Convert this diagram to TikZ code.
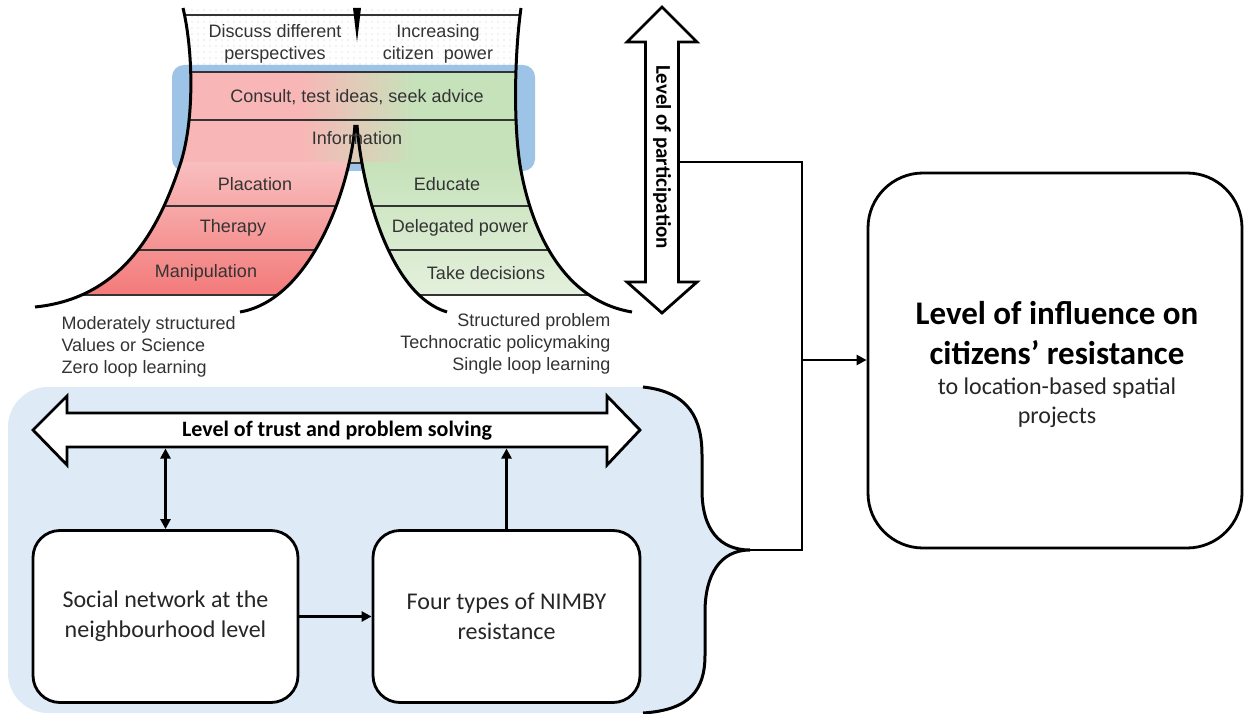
\documentclass[tikz,border=0pt]{standalone}
\usepackage{fontspec}
\setmainfont{Liberation Sans}
\newfontfamily\calib{Carlito}
\usetikzlibrary{arrows.meta}
\definecolor{txt}{RGB}{51,51,51}
\definecolor{pinkA}{RGB}{249,190,190}
\definecolor{pinkB}{RGB}{243,122,122}
\definecolor{pinkM}{RGB}{249,182,182}
\definecolor{greenA}{RGB}{198,226,186}
\definecolor{greenB}{RGB}{228,240,220}
\definecolor{hlblue}{RGB}{157,195,230}
\definecolor{bgblue}{RGB}{222,235,247}
\definecolor{dotgray}{RGB}{205,205,205}
\definecolor{boxtxt}{RGB}{38,38,38}
\tikzset{
  curve/.style={line width=3pt, black},
  rowline/.style={line width=1.4pt, black!80},
  conn/.style={line width=2.8pt, black, line join=miter},
  arr/.style={conn, -{Triangle[length=10pt,width=10pt]}},
  darr/.style={conn, {Triangle[length=10pt,width=10pt]}-{Triangle[length=10pt,width=10pt]}},
  box/.style={draw, line width=2.8pt, fill=white, rounded corners=27pt, align=center,
              text=boxtxt, font=\calib\fontsize{24}{30}\selectfont},
  fatarrow/.style={draw, line width=2.8pt, fill=white, line join=miter},
  lad/.style={text=txt, font=\fontsize{18}{22}\selectfont, align=center},
  note/.style={text=txt, font=\fontsize{18}{22}\selectfont},
}
\begin{document}
\begin{tikzpicture}[x=1pt,y=-1pt]
\useasboundingbox (0,0) rectangle (1244,714);
\fill[white] (0,0) rectangle (1244,714);

% ---------- bottom blue region with brace ----------
\fill[bgblue] (643,387) .. controls (690,392) and (702,420) .. (702,455) -- (702,490)
  .. controls (702,530) and (720,550) .. (750,550)
  .. controls (720,550) and (705,575) .. (705,612) -- (705,655)
  .. controls (705,690) and (690,710) .. (643,713) -- (48,713)
  .. controls (26,713) and (8,695) .. (8,673) -- (8,427)
  .. controls (8,405) and (26,387) .. (48,387) -- cycle;
\coordinate (braceTip) at (750,550);
\draw[curve] (643,387) .. controls (690,392) and (702,420) .. (702,455) -- (702,490)
  .. controls (702,530) and (720,550) .. (braceTip)
  .. controls (720,550) and (705,575) .. (705,612) -- (705,655)
  .. controls (705,690) and (690,710) .. (643,713);

% ---------- ladder ----------
% dots
\begin{scope}
  \clip (183,8) .. controls (193,50) and (195,120) .. (180,165) .. controls (160,225) and (125,298) .. (35,307)
     -- (632,312) .. controls (560,300) and (530,225) .. (520,165) .. controls (513,120) and (515,50) .. (521,8) -- cycle;
  \foreach \yy in {10,16,...,70} {
    \foreach \xx in {180,186,...,530} {
      \fill[dotgray] (\xx,\yy) circle (0.7);
    }
  }
\end{scope}
% highlight
\fill[hlblue, rounded corners=12pt] (172,65) rectangle (535,171);
% middle rows
\begin{scope}
  \clip (183,8) .. controls (193,50) and (195,120) .. (180,165) .. controls (160,225) and (125,298) .. (35,307)
     -- (632,312) .. controls (560,300) and (530,225) .. (520,165) .. controls (513,120) and (515,50) .. (521,8) -- cycle;
  \fill[pinkM] (150,72) rectangle (300,163);
  \shade[left color=pinkM, right color=greenA] (300,72) rectangle (415,163);
  \fill[greenA] (415,72) rectangle (560,163);
  \draw[rowline] (150,15) -- (560,15);
  \draw[rowline] (150,72) -- (560,72);
  \draw[rowline] (150,120) -- (560,120);
  \draw[rowline] (150,163) -- (560,163);
\end{scope}
% left rows
\begin{scope}
  \clip (183,8) .. controls (193,50) and (195,120) .. (180,165) .. controls (160,225) and (125,298) .. (35,307)
     -- (240,312) .. controls (310,300) and (350,190) .. (355,125) -- (355,8) -- cycle;
  \shade[top color=pinkA, bottom color=pinkB] (0,163) rectangle (400,295);
  \draw[rowline] (0,206) -- (400,206);
  \draw[rowline] (0,250) -- (400,250);
  \draw[rowline] (0,295) -- (400,295);
\end{scope}
% right rows
\begin{scope}
  \clip (521,8) .. controls (515,50) and (513,120) .. (520,165) .. controls (530,225) and (560,300) .. (632,312)
     -- (447,312) .. controls (390,295) and (362,190) .. (357,125) -- (357,8) -- cycle;
  \shade[top color=greenA, bottom color=greenB] (340,163) rectangle (700,295);
  \draw[rowline] (340,206) -- (700,206);
  \draw[rowline] (340,250) -- (700,250);
  \draw[rowline] (340,295) -- (700,295);
\end{scope}
% curves
\draw[curve] (183,8) .. controls (193,50) and (195,120) .. (180,165) .. controls (160,225) and (125,298) .. (35,307);
\draw[curve] (521,8) .. controls (515,50) and (513,120) .. (520,165) .. controls (530,225) and (560,300) .. (632,312);
\draw[curve] (355,125) .. controls (350,190) and (310,300) .. (240,312);
\draw[curve] (357,125) .. controls (362,190) and (390,295) .. (447,312);
\fill[black] (353,8) -- (361,8) -- (357,42) -- cycle;

% ladder texts
\node[lad] (disc) at (275,44) {Discuss different\\perspectives};
\node[lad] (incr) at (438,44) {Increasing\\citizen\ \ power};
\node[lad] (consult) at (357,97) {Consult, test ideas, seek advice};
\node[lad] (inform) at (357,138) {Information};
\draw[curve] (355,125) -- (355.6,133);
\node[lad] (plac) at (255,184) {Placation};
\node[lad] (ther) at (233,228) {Therapy};
\node[lad] (mani) at (206,273) {Manipulation};
\node[lad] (educ) at (447,184) {Educate};
\node[lad] (dele) at (460,228) {Delegated power};
\node[lad] (take) at (486,273) {Take decisions};
\node[note, align=left, anchor=west] (leftnote) at (58,347) {Moderately structured\\Values or Science\\Zero loop learning};
\node[note, align=right, anchor=east] (rightnote) at (614,344) {Structured problem\\Technocratic policymaking\\Single loop learning};

% ---------- participation arrow ----------
\draw[fatarrow] (662,7) -- (697,42) -- (678.5,42) -- (678.5,282) -- (697,282) -- (662,313)
  -- (627,282) -- (645.5,282) -- (645.5,42) -- (627,42) -- cycle;
\node[rotate=-90, font=\calib\bfseries\fontsize{21}{25}\selectfont] (part) at (662,157) {Level of participation};
\coordinate (partR) at (678.5,162);
\coordinate (c1) at (802,162);
\coordinate (c2) at (802,550);
\coordinate (junc) at (802,360);
\draw[conn] (partR) -- (c1) -- (c2) -- (braceTip);

% ---------- trust arrow ----------
\draw[fatarrow] (33,430) -- (67,396) -- (67,413) -- (607,413) -- (607,396) -- (640,430)
  -- (607,465) -- (607,447) -- (67,447) -- (67,465) -- cycle;
\node[font=\calib\bfseries\fontsize{22}{26}\selectfont] (trust) at (337,431) {Level of trust and problem solving};
\coordinate (tb) at (337,448.5);

% ---------- boxes ----------
\node[box, minimum width=265pt, minimum height=172pt] (soc) at (165.5,616.5) {Social network at the\\neighbourhood level};
\node[box, minimum width=267pt, minimum height=172pt] (nimby) at (506.5,616.5) {Four types of NIMBY\\resistance};
\node[box, rounded corners=55pt, minimum width=374pt, minimum height=375pt] (infl) at (1055,360.5) {};
\node[font=\calib\bfseries\fontsize{33}{40}\selectfont, align=center] (infltitle) at (1057,333) {Level of influence on\\citizens’ resistance};
\node[font=\calib\fontsize{24}{29}\selectfont, align=center, text=boxtxt] (inflsub) at (1057,403) {to location-based spatial\\projects};

% ---------- connectors ----------
\draw[darr] (soc.north |- tb) -- (soc.north);
\draw[arr] (nimby.north) -- (nimby.north |- tb);
\draw[arr] (soc.east) -- (nimby.west);
\draw[arr] (junc) -- (junc -| infl.west);
\end{tikzpicture}
\end{document}
